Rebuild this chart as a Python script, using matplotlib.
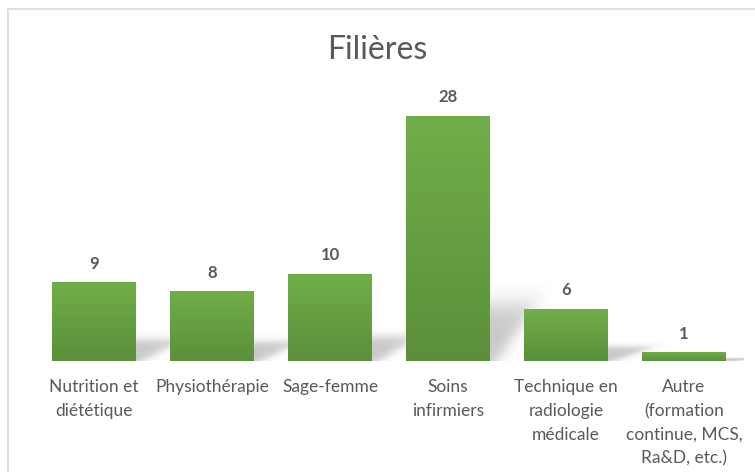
import numpy as np
import matplotlib.pyplot as plt
from matplotlib.lines import Line2D
from matplotlib.colors import LinearSegmentedColormap

categories = ["Nutrition et\ndiététique", "Physiothérapie", "Sage-femme",
              "Soins\ninfirmiers", "Technique en\nradiologie\nmédicale",
              "Autre\n(formation\ncontinue, MCS,\nRa&D, etc.)"]
values = [9, 8, 10, 28, 6, 1]

plt.rcParams['font.family'] = ['Lato', 'DejaVu Sans']
text_color = "#595959"

fig = plt.figure(figsize=(7.55, 4.72), dpi=100)
ax = fig.add_axes([35 / 755, 1 - 361 / 472, 708 / 755, 262.5 / 472])

x = np.arange(len(values))
width = 0.71
bars = ax.bar(x, values, width=width, color="#6aa544", zorder=3)

# vertical gradient inside each bar
grad = np.linspace(0, 1, 256).reshape(-1, 1)
cmap = LinearSegmentedColormap.from_list("g", ["#5b8f3b", "#71ae48"])

def sig(t):
    return 1 / (1 + np.exp(-t))

for b, v in zip(bars, values):
    x0, w, h = b.get_x(), b.get_width(), b.get_height()
    im = ax.imshow(grad, cmap=cmap, aspect="auto", origin="lower",
                   extent=[x0, x0 + w, 0, h], zorder=4)
    im.set_clip_path(b)

    # soft perspective shadow cast to the back right
    xr = x0 + w
    hs = min(0.27 * h, 6.4)
    dx = 0.38
    xs = np.linspace(xr - 0.05, xr + dx + 0.15, 120)
    ys = np.linspace(0, hs * 1.4, 120)
    U, V = np.meshgrid(xs - xr, ys / hs)
    alpha = 0.36 * sig((1 - V) / 0.12) * sig((dx * (0.15 + 0.85 * V) - U) / 0.04)
    rgba = np.zeros(U.shape + (4,))
    rgba[..., :3] = 0.4
    rgba[..., 3] = alpha
    ax.imshow(rgba, aspect="auto", origin="lower",
              extent=[xs[0], xs[-1], 0, ys[-1]], zorder=2, interpolation="bilinear")

    ax.text(x0 + w / 2, h + 1.2, str(v), ha="center", va="bottom",
            fontsize=12, fontweight="bold", color=text_color)

ax.set_xlim(-0.5, len(values) - 0.5)
ax.set_ylim(0, 30)
ax.set_xticks(x)
ax.set_xticklabels(categories, fontsize=12.5, color=text_color, linespacing=1.6)
ax.tick_params(axis="x", length=0, pad=13)
ax.set_yticks([])
for s in ax.spines.values():
    s.set_visible(False)

fig.text(0.5, 1 - 50 / 472, "Filières", ha="center", va="center", fontsize=23, color=text_color)

# chart frame (cropped)
fig.add_artist(Line2D([8 / 755, 1], [1 - 9 / 472, 1 - 9 / 472], color="#d9d9d9", lw=1.2))
fig.add_artist(Line2D([8 / 755, 8 / 755], [0, 1 - 9 / 472], color="#d9d9d9", lw=1.2))

fig.savefig("out.png", dpi=100)
